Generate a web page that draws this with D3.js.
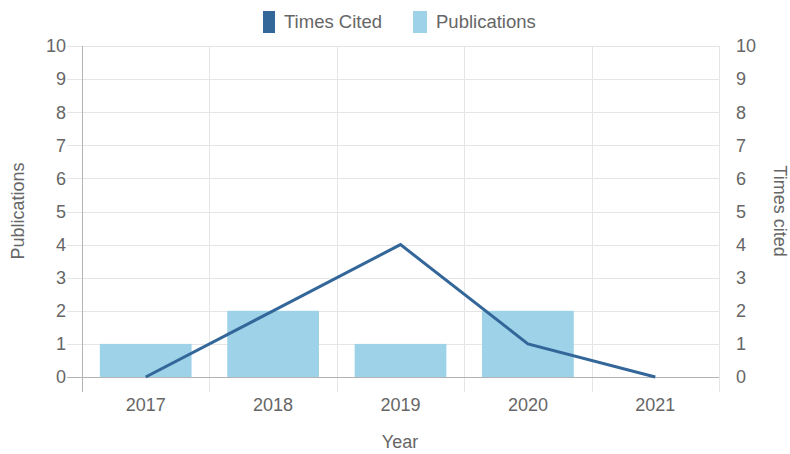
<!DOCTYPE html>
<html lang="en">
<head>
    <meta charset="UTF-8">
    <title>Publications and Times Cited</title>
    <style>
        body {
            margin: 0;
            padding: 0;
            background-color: #fff;
            font-family: 'Liberation Sans', Arial, sans-serif;
        }
        svg text {
            fill: #666;
        }
    </style>
    <script src="https://d3js.org/d3.v7.min.js"></script>
</head>
<body>
    <div id="chart"></div>

    <script>
        var years = ['2017', '2018', '2019', '2020', '2021'];
        var publications = [1, 2, 1, 2, 0];
        var timesCited = [0, 2, 4, 1, 0];
        var yTicks = [0, 1, 2, 3, 4, 5, 6, 7, 8, 9, 10];

        var width = 790, height = 454;
        var plotLeft = 82, plotRight = 719, plotTop = 46, plotBottom = 377;

        var svg = d3.select('#chart')
            .append('svg')
            .attr('width', width)
            .attr('height', height)
            .style('display', 'block');

        var x = d3.scaleBand()
            .domain(years)
            .range([plotLeft, plotRight]);

        var yLeft = d3.scaleLinear().domain([0, 10]).range([plotBottom, plotTop]);
        var yRight = d3.scaleLinear().domain([0, 10]).range([plotBottom, plotTop]);

        // horizontal grid lines (extend left as ticks)
        svg.append('g')
            .selectAll('line')
            .data(yTicks)
            .enter()
            .append('line')
            .attr('x1', plotLeft - 15)
            .attr('x2', plotRight)
            .attr('y1', d => Math.round(yLeft(d)) + 0.5)
            .attr('y2', d => Math.round(yLeft(d)) + 0.5)
            .attr('stroke', '#e5e5e5')
            .attr('stroke-width', 1);

        // vertical grid lines at category edges
        var edges = years.map(d => x(d)).concat([plotRight]);
        svg.append('g')
            .selectAll('line')
            .data(edges)
            .enter()
            .append('line')
            .attr('x1', d => Math.round(d) + 0.5)
            .attr('x2', d => Math.round(d) + 0.5)
            .attr('y1', plotTop)
            .attr('y2', plotBottom + 15)
            .attr('stroke', (d, i) => i === 0 ? '#b3b3b3' : '#e5e5e5')
            .attr('stroke-width', 1);

        // bars
        var barW = x.bandwidth() * 0.72;
        svg.append('g')
            .selectAll('rect')
            .data(publications)
            .enter()
            .append('rect')
            .attr('x', (d, i) => x(years[i]) + (x.bandwidth() - barW) / 2)
            .attr('y', d => yLeft(d))
            .attr('width', barW)
            .attr('height', d => yLeft(0) - yLeft(d))
            .attr('fill', '#9dd2e8');

        // x axis baseline on top of bars
        svg.append('line')
            .attr('x1', plotLeft - 15)
            .attr('x2', plotRight)
            .attr('y1', Math.round(yLeft(0)) + 0.5)
            .attr('y2', Math.round(yLeft(0)) + 0.5)
            .attr('stroke', '#b3b3b3');

        // line
        var line = d3.line()
            .x((d, i) => x(years[i]) + x.bandwidth() / 2)
            .y(d => yRight(d));

        svg.append('path')
            .datum(timesCited)
            .attr('d', line)
            .attr('fill', 'none')
            .attr('stroke', '#336699')
            .attr('stroke-width', 3);

        // left tick labels
        svg.append('g')
            .selectAll('text')
            .data(yTicks)
            .enter()
            .append('text')
            .attr('x', plotLeft - 16)
            .attr('y', d => yLeft(d))
            .attr('dy', '0.35em')
            .attr('text-anchor', 'end')
            .style('font-size', '18px')
            .text(d => d);

        // right tick labels
        svg.append('g')
            .selectAll('text')
            .data(yTicks)
            .enter()
            .append('text')
            .attr('x', plotRight + 17)
            .attr('y', d => yRight(d))
            .attr('dy', '0.35em')
            .attr('text-anchor', 'start')
            .style('font-size', '18px')
            .text(d => d);

        // x tick labels
        svg.append('g')
            .selectAll('text')
            .data(years)
            .enter()
            .append('text')
            .attr('x', d => x(d) + x.bandwidth() / 2)
            .attr('y', 405)
            .attr('dy', '0.35em')
            .attr('text-anchor', 'middle')
            .style('font-size', '18px')
            .text(d => d);

        // axis titles
        svg.append('text')
            .attr('x', 400)
            .attr('y', 442)
            .attr('dy', '0.35em')
            .attr('text-anchor', 'middle')
            .style('font-size', '18px')
            .text('Year');

        svg.append('text')
            .attr('transform', 'translate(18,211) rotate(-90)')
            .attr('dy', '0.35em')
            .attr('text-anchor', 'middle')
            .style('font-size', '18px')
            .text('Publications');

        svg.append('text')
            .attr('transform', 'translate(780,211) rotate(90)')
            .attr('dy', '0.35em')
            .attr('text-anchor', 'middle')
            .style('font-size', '18px')
            .text('Times cited');

        // legend
        var legend = [
            { label: 'Times Cited', color: '#336699', x: 263, w: 12 },
            { label: 'Publications', color: '#9dd2e8', x: 413, w: 14 }
        ];
        var lg = svg.append('g');
        lg.selectAll('rect')
            .data(legend)
            .enter()
            .append('rect')
            .attr('x', d => d.x)
            .attr('y', 11)
            .attr('width', d => d.w)
            .attr('height', 22)
            .attr('fill', d => d.color);
        lg.selectAll('text')
            .data(legend)
            .enter()
            .append('text')
            .attr('x', d => d.x + d.w + 9)
            .attr('y', 22)
            .attr('dy', '0.35em')
            .style('font-size', '18.5px')
            .text(d => d.label);
    </script>
</body>
</html>
